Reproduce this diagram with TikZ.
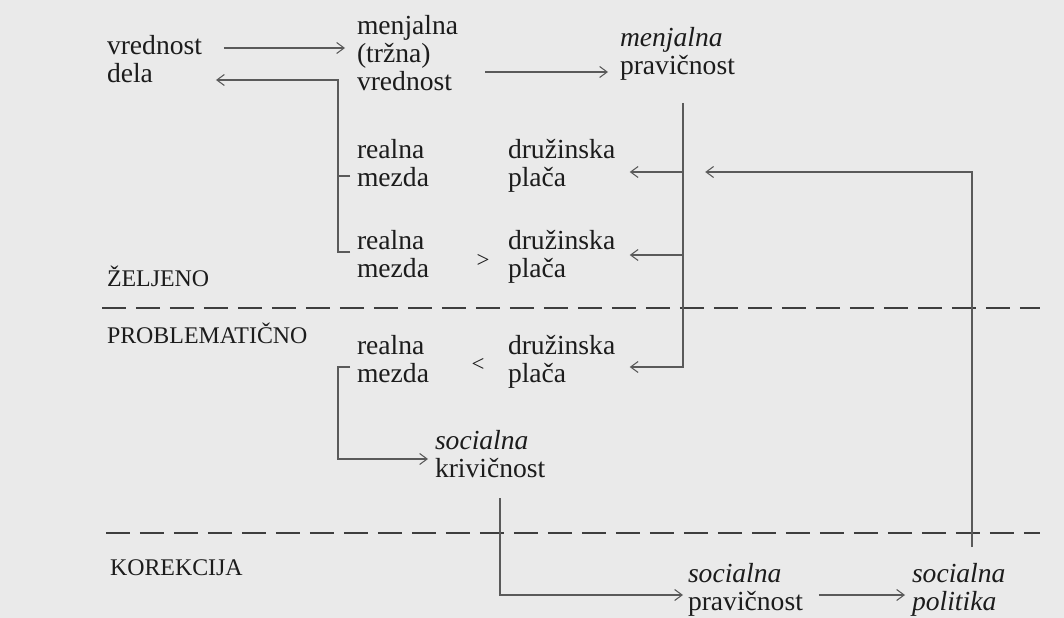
\documentclass[tikz,border=0pt]{standalone}
\usepackage{fontspec}
\setmainfont{Liberation Serif}
\usepackage{tikz}
\usetikzlibrary{arrows.meta}
\definecolor{cPaper}{RGB}{234,234,234}
\definecolor{cInk}{RGB}{28,28,28}
\definecolor{cLine}{RGB}{90,90,90}
\definecolor{cRule}{RGB}{62,62,62}
\tikzset{
  word/.style={anchor=north west, inner sep=0pt, outer sep=0pt, align=left,
               text=cInk, font=\fontsize{15.7}{15.9}\selectfont},
  caps/.style={anchor=base west, inner sep=0pt, outer sep=0pt, text=cInk,
               font=\fontsize{13.6}{15}\selectfont},
  relnode/.style={inner sep=0pt, text=cInk, font=\fontsize{13}{14}\selectfont},
  plainline/.style={cLine, line width=0.6pt},
  arrow/.style={plainline, -{Straight Barb[length=0.15cm, width=0.22cm]}},
  dashrule/.style={cRule, line width=1.7pt, dash pattern=on 0.48cm off 0.2cm}
}

\begin{document}
\begin{tikzpicture}[x=0.02cm, y=-0.02cm]
  \path[use as bounding box, fill=cPaper] (0,0) rectangle (1064,618);

  \node[word] (vd) at (107,35.5) {vrednost\\dela};
  \node[word] (mtv) at (357,15.5) {menjalna\\(tržna)\\vrednost};
  \node[word] (mp) at (620,27.5) {\textit{menjalna}\\pravičnost};

  \foreach \i/\y in {1/139.5, 2/230.5, 3/335.5} {
    \node[word] (rm\i) at (357,\y) {realna\\mezda};
    \node[word] (dp\i) at (508,\y) {družinska\\plača};
  }
  \node[relnode] (gt) at (483,261) {>};
  \node[relnode] (lt) at (478,365) {<};

  \node[caps] (zel) at (107,286) {ŽELJENO};
  \node[caps] (prob) at (107,343) {PROBLEMATIČNO};
  \node[caps] (kor) at (110,575) {KOREKCIJA};

  \node[word] (sk) at (435,430.5) {\textit{socialna}\\krivičnost};
  \node[word] (sp) at (688,563.5) {\textit{socialna}\\pravičnost};
  \node[word] (spol) at (912,563.5) {\textit{socialna}\\\textit{politika}};

  \draw[dashrule] (102,308) -- (1040,308);
  \draw[dashrule] (106,533) -- (1040,533);

  % bend points of the connectors
  \coordinate (lbtop) at (338,80);
  \coordinate (lbbot) at (338,252);
  \coordinate (mv) at (683,367);
  \coordinate (rv) at (972,172);
  \coordinate (kv) at (500,595);

  \draw[arrow, shorten <=0.44cm, shorten >=0.24cm] (vd.east |- 0,48) -- (mtv.west |- 0,48);
  \draw[arrow, shorten <=0.54cm, shorten >=0.24cm] (mtv.east |- 0,72) -- (mp.west |- 0,72);

  \draw[arrow, shorten <=0.14cm, shorten >=0.28cm]
    (rm2.west |- lbbot) -- (lbbot) -- (lbtop) -- (vd.east |- lbtop);
  \draw[plainline, shorten <=0.14cm] (rm1.west |- 0,176) -- (lbtop |- 0,176);
  \draw[arrow, shorten <=0.14cm, shorten >=0.14cm]
    (rm3.west |- 0,367) -- (lbtop |- 0,367) |- (sk.west |- 0,459);

  \draw[arrow, shorten <=0.45cm, shorten >=0.29cm] (mp.south -| mv) -- (mv) -- (dp3.east |- mv);
  \foreach \r/\yy in {1/172, 2/255}
    \draw[arrow, shorten >=0.29cm] (mv |- 0,\yy) -- (dp\r.east |- 0,\yy);

  \draw[arrow, shorten <=0.33cm, shorten >=1.8cm] (spol.north -| rv) -- (rv) -- (dp1.east |- rv);

  \draw[arrow, shorten <=0.41cm, shorten >=0.1cm] (sk.south -| kv) -- (kv) -- (sp.west |- kv);
  \draw[arrow, shorten <=0.32cm, shorten >=0.14cm] (sp.east |- kv) -- (spol.west |- kv);
\end{tikzpicture}
\end{document}
